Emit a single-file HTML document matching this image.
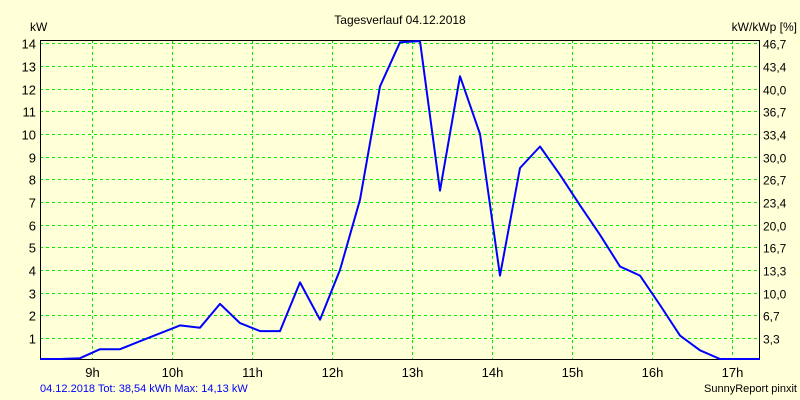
<!DOCTYPE html>
<html><head><meta charset="utf-8"><style>
html,body{margin:0;padding:0;background:#ffffd8;}
svg{display:block;font-family:"Liberation Sans",sans-serif;}
</style></head><body>
<svg id="chart" width="800" height="400" viewBox="0 0 800 400">
<rect x="0" y="0" width="800" height="400" fill="#ffffd8"/>
<text x="400" y="24" text-anchor="middle" font-size="12">Tagesverlauf 04.12.2018</text>
<text x="30" y="31" font-size="12">kW</text>
<text x="797" y="31" text-anchor="end" font-size="12">kW/kWp [%]</text>
<g id="grid"></g>
<g id="axes"></g>
<g id="series"></g>
<text x="40" y="392" font-size="11" fill="#0000ff">04.12.2018 Tot: 38,54 kWh Max: 14,13 kW</text>
<text x="797" y="392" text-anchor="end" font-size="11">SunnyReport pinxit</text>
</svg>
<script>
const hourTicks = [9,10,11,12,13,14,15,16,17];
const leftTicks = [1,2,3,4,5,6,7,8,9,10,11,12,13,14];
const rightTickLabels = ["3,3","6,7","10,0","13,3","16,7","20,0","23,4","26,7","30,0","33,4","36,7","40,0","43,4","46,7"];
const times = [8.35,8.6,8.85,9.1,9.35,9.6,9.85,10.1,10.35,10.6,10.85,11.1,11.35,11.6,11.85,12.1,12.35,12.6,12.85,13.1,13.35,13.6,13.85,14.1,14.35,14.6,14.85,15.1,15.35,15.6,15.85,16.1,16.35,16.6,16.85,17.1,17.35];
const powerKW = [0,0,0.1,0.5,0.5,0.85,1.2,1.55,1.45,2.5,1.65,1.3,1.3,3.45,1.8,4.0,7.1,12.1,14.05,14.1,7.5,12.55,10.0,3.75,8.5,9.45,8.2,6.85,5.55,4.15,3.75,2.45,1.1,0.45,0.0,0,0];

const NS="http://www.w3.org/2000/svg";
const L=40,R=760,T=40,B=359;
function xs(h){return 92+(h-9)*80;}
function ys(v){return 360.5-v*22.65;}
function mk(tag,attrs,parent){const e=document.createElementNS(NS,tag);for(const k in attrs)e.setAttribute(k,attrs[k]);parent.appendChild(e);return e;}
const grid=document.getElementById('grid'),axes=document.getElementById('axes'),series=document.getElementById('series');
leftTicks.forEach((v,i)=>{
  const y=Math.round(ys(v))+0.5;
  const g=mk('line',{x1:L,x2:R,y1:y,y2:y,stroke:'#00ee00','stroke-width':1,'stroke-dasharray':'3,3'},grid);
  
  
  const t=mk('text',{x:36,y:y+5,'text-anchor':'end','font-size':13},axes);
  t.textContent=v;
  
  
  const t2=mk('text',{x:763,y:y+5,'font-size':12},axes);
  t2.textContent=rightTickLabels[i];
  
  
});
hourTicks.forEach(h=>{
  const x=Math.round(xs(h))+0.5;
  const g=mk('line',{x1:x,x2:x,y1:T,y2:B,stroke:'#00ee00','stroke-width':1,'stroke-dasharray':'3,3'},grid);
  
  
  const t=mk('text',{x:x,y:377,'text-anchor':'middle','font-size':13},axes);
  t.textContent=h+'h';
  
  
});
const fr=mk('path',{d:`M${L+0.5},${B} L${L+0.5},${T+0.5} L${R-0.5},${T+0.5} L${R-0.5},${B+0.5} M${L},${B+0.5} L${R},${B+0.5}`,stroke:'#000',fill:'none','stroke-width':1},axes);


const pts=times.map((t,i)=>xs(t).toFixed(1)+','+Math.min(ys(powerKW[i]),359).toFixed(1)).join(' ');
const pl=mk('polyline',{points:pts,fill:'none',stroke:'#0000ff','stroke-width':2,'stroke-linejoin':'round'},series);


</script>
</body></html>
